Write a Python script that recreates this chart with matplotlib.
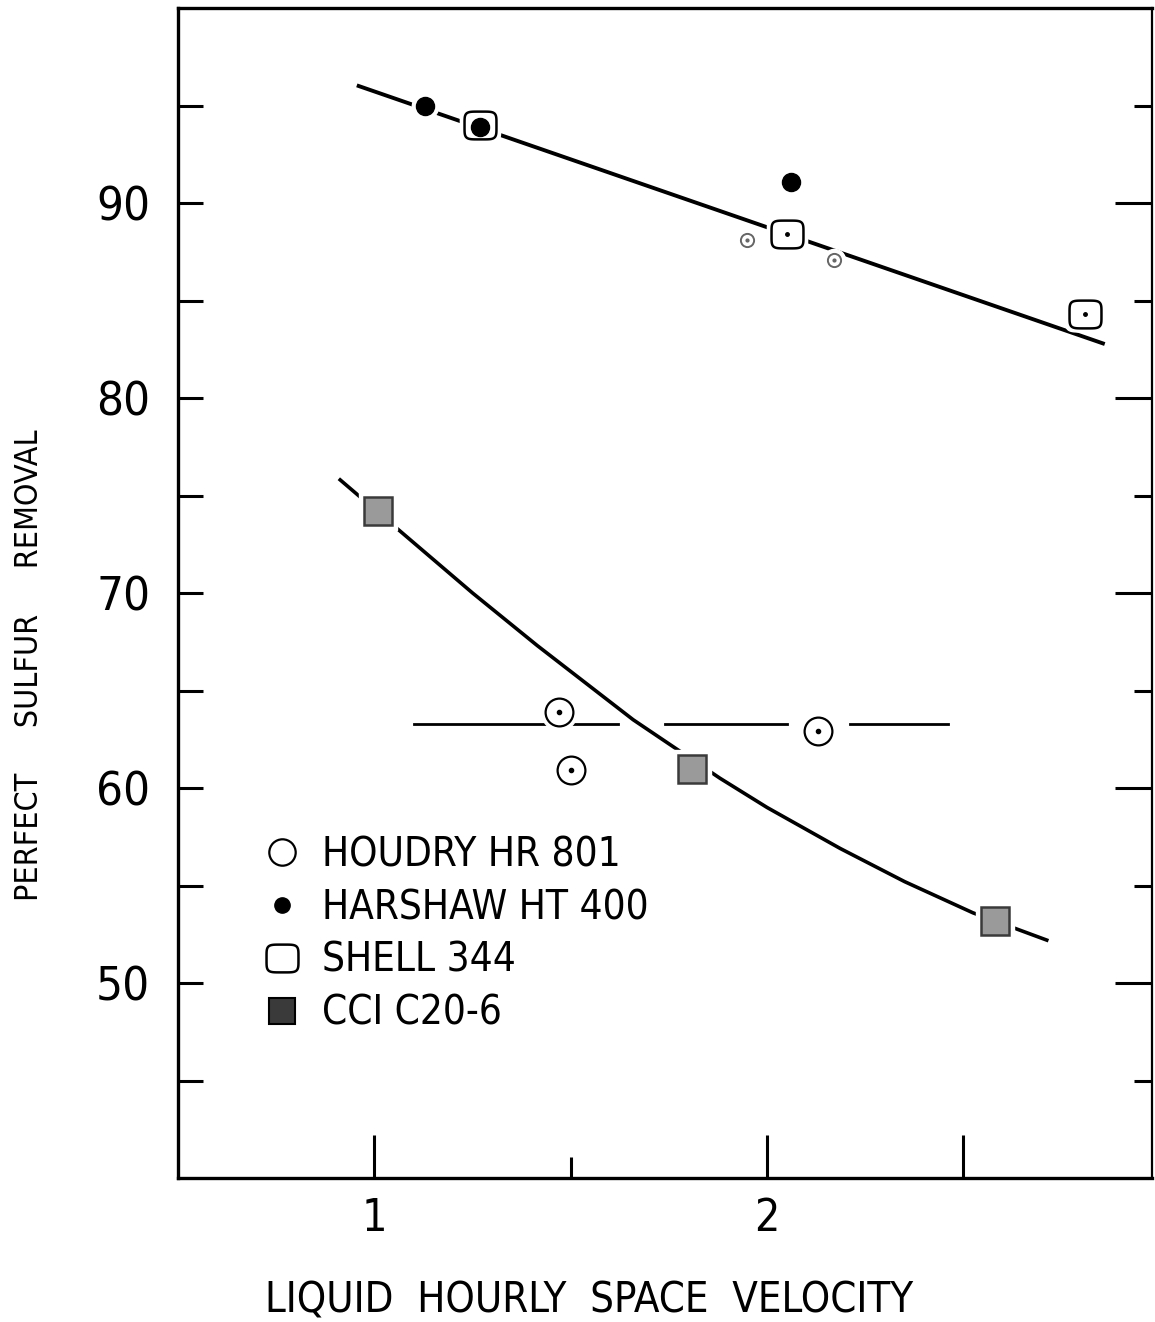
import matplotlib
matplotlib.use('Agg')
import matplotlib.pyplot as plt
import numpy as np
from matplotlib.path import Path
from matplotlib.lines import Line2D
from matplotlib import font_manager as fm

# pick a narrow sans face if there is one, the original lettering is condensed
narrow = [f for f in fm.fontManager.ttflist
          if f.stretch in ('condensed', 'semi-condensed', 'extra-condensed')
          and f.style == 'normal' and f.weight in (400, 'normal', 'regular')]
names = {f.name for f in fm.fontManager.ttflist}
if 'Liberation Sans Narrow' in names:
    font_name, font_stretch = 'Liberation Sans Narrow', 'normal'
elif narrow:
    font_name, font_stretch = narrow[0].name, narrow[0].stretch
else:
    font_name, font_stretch = 'Liberation Sans', 'normal'
plt.rcParams['font.family'] = [font_name, 'DejaVu Sans']
plt.rcParams['font.stretch'] = font_stretch

# data
houdry_x = [1.47, 1.50, 2.13]
houdry_y = [63.9, 60.9, 62.9]
houdry_faint_x = [1.95, 2.17]
houdry_faint_y = [88.1, 87.1]
harshaw_x = [1.13, 1.27, 2.06]
harshaw_y = [95.0, 93.9, 91.1]
shell_x = [1.27, 2.05, 2.81]
shell_y = [94.0, 88.4, 84.3]
cci_x = [1.01, 1.81, 2.58]
cci_y = [74.2, 61.0, 53.2]

# hand drawn curves
upper_fit_x = [0.96, 2.855]
upper_fit_y = [96.0, 82.8]
lower_fit_x = [0.913, 1.064, 1.25, 1.415, 1.659, 1.88, 2.0, 2.186, 2.35, 2.524, 2.712]
lower_fit_y = [75.8, 73.2, 70.0, 67.3, 63.5, 60.5, 59.0, 56.9, 55.2, 53.6, 52.2]
level_y = 63.3
level_segments = [(1.10, 1.62), (1.74, 2.05), (2.21, 2.46)]

labels = ['HOUDRY HR 801', 'HARSHAW HT 400', 'SHELL 344', 'CCI C20-6']
x_ticks = [1, 2, 2.5]
x_ticklabels = ['1', '2', '']
y_ticks = [50, 60, 70, 80, 90]

# rounded square marker for the Shell points
t = np.linspace(0, 2 * np.pi, 80)
sq = np.column_stack([1.15 * np.sign(np.cos(t)) * np.abs(np.cos(t)) ** 0.4,
                      np.sign(np.sin(t)) * np.abs(np.sin(t)) ** 0.4])
rsquare = Path(sq)

fig = plt.figure(figsize=(11.55, 13.22), dpi=100)
ax = fig.add_axes([178 / 1155, 1 - 1178 / 1322, 974 / 1155, 1170 / 1322])

# fitted lines
ax.plot(upper_fit_x, upper_fit_y, color='black', lw=2.8, zorder=2)
ax.plot(lower_fit_x, lower_fit_y, color='black', lw=2.6, zorder=2,
        solid_joinstyle='round')
for x0, x1 in level_segments:
    ax.plot([x0, x1], [level_y, level_y], color='black', lw=2.0, zorder=2)

# white halos so the lines break around the symbols
halo = dict(ls='none', mfc='white', mec='white', zorder=3)
ax.plot(houdry_x, houdry_y, marker='o', ms=26, **halo)
ax.plot(houdry_faint_x, houdry_faint_y, marker='o', ms=16, **halo)
ax.plot(harshaw_x, harshaw_y, marker='o', ms=19, **halo)
ax.plot(shell_x, shell_y, marker=rsquare, ms=29, **halo)
ax.plot(cci_x, cci_y, marker='s', ms=27, **halo)

# symbols
ax.plot(houdry_x, houdry_y, ls='none', marker='o', ms=20, mfc='white',
        mec='black', mew=1.6, zorder=4)
ax.plot(houdry_x, houdry_y, ls='none', marker='o', ms=3, color='black', zorder=5)
ax.plot(houdry_faint_x, houdry_faint_y, ls='none', marker='o', ms=9.5, mfc='white',
        mec='#666666', mew=1.4, zorder=4)
ax.plot(houdry_faint_x, houdry_faint_y, ls='none', marker='o', ms=2, color='#666666', zorder=5)
ax.plot(shell_x, shell_y, ls='none', marker=rsquare, ms=23, mfc='white',
        mec='black', mew=1.8, zorder=4)
ax.plot(shell_x, shell_y, ls='none', marker='o', ms=2.5, color='black', zorder=5)
ax.plot(harshaw_x, harshaw_y, ls='none', marker='o', ms=13, color='black', zorder=6)
ax.plot(cci_x, cci_y, ls='none', marker='s', ms=20, mfc='#9a9a9a',
        mec='#3a3a3a', mew=1.8, zorder=4)

# legend
handles = [
    Line2D([], [], ls='none', marker='o', ms=19, mfc='white', mec='black', mew=1.6),
    Line2D([], [], ls='none', marker='o', ms=11, color='black'),
    Line2D([], [], ls='none', marker=rsquare, ms=23, mfc='white', mec='black', mew=1.8),
    Line2D([], [], ls='none', marker='s', ms=19, mfc='#3a3a3a', mec='black', mew=1.5),
]
ax.legend(handles, labels, loc='upper left', bbox_to_anchor=(0.09, 0.293),
          frameon=False, fontsize=29, handlelength=0.8, handletextpad=0.6,
          labelspacing=0.32, borderpad=0, borderaxespad=0)

ax.set_xlim(0.5, 2.98)
ax.set_ylim(40, 100)

ax.set_xticks(x_ticks)
ax.set_xticklabels(x_ticklabels)
ax.set_xticks([1.5], minor=True)
ax.set_yticks(y_ticks)
ax.set_yticks([45, 55, 65, 75, 85, 95], minor=True)

ax.tick_params(axis='x', which='major', direction='in', length=31, width=2.2,
               labelsize=32, pad=14, top=False)
ax.tick_params(axis='x', which='minor', direction='in', length=15, width=2.2, top=False)
ax.tick_params(axis='y', which='major', direction='in', length=27, width=2.2,
               labelsize=34, pad=20, right=True)
ax.tick_params(axis='y', which='minor', direction='in', length=13, width=2.2, right=True)
for tk in ax.yaxis.get_major_ticks() + ax.yaxis.get_minor_ticks():
    tk.tick1line.set_markersize(18)

for side in ['left', 'bottom', 'top']:
    ax.spines[side].set_linewidth(2.4)
ax.spines['right'].set_linewidth(1.6)

ax.set_xlabel('LIQUID  HOURLY  SPACE  VELOCITY', fontsize=30)
ax.xaxis.set_label_coords(0.422, -0.0865)
ax.set_ylabel('PERFECT     SULFUR     REMOVAL', fontsize=23)
ax.yaxis.set_label_coords(-0.1366, 0.4385)

fig.savefig('out.png', dpi=100)
